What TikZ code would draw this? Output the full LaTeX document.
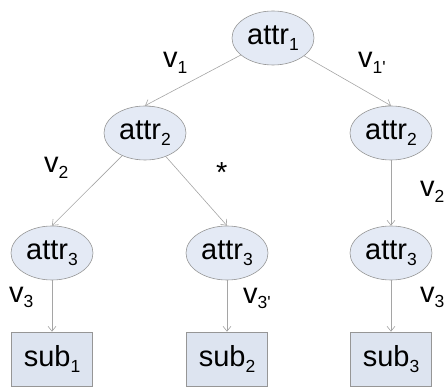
\documentclass[tikz,border=0pt]{standalone}
\usepackage{fontspec}
\setmainfont{Liberation Sans}
\usetikzlibrary{shapes.geometric,arrows.meta}
\definecolor{efill}{RGB}{228,234,245}
\definecolor{bfill}{RGB}{221,228,240}
\definecolor{bline}{RGB}{150,150,150}
\definecolor{eline}{RGB}{165,165,165}
\newcommand\sbs[1]{\raisebox{-0.2em}{\fontsize{17.5}{17.5}\selectfont #1}}
\tikzset{
  attrnode/.style={ellipse,draw=bline,fill=efill,line width=0.6pt,minimum width=82pt,minimum height=54pt,inner sep=0pt,font=\fontsize{29}{29}\selectfont},
  subnode/.style={rectangle,draw=bline,fill=bfill,line width=0.6pt,minimum width=81pt,minimum height=54pt,inner sep=0pt,font=\fontsize{29}{29}\selectfont},
  edge/.style={draw=eline,line width=0.6pt,-{Straight Barb[length=5pt,width=8pt]}},
  lbl/.style={inner sep=0pt,anchor=base west,font=\fontsize{29}{29}\selectfont}
}
\begin{document}
\begin{tikzpicture}[x=1pt,y=-1pt]
\useasboundingbox (0,0) rectangle (447,387);
\node[attrnode] (a1) at (273,38) {attr\sbs{1}};
\node[attrnode] (a2L) at (145,133) {attr\sbs{2}};
\node[attrnode] (a2R) at (391,133) {attr\sbs{2}};
\node[attrnode] (a3L) at (52,253) {attr\sbs{3}};
\node[attrnode] (a3M) at (227,253) {attr\sbs{3}};
\node[attrnode] (a3R) at (391,253) {attr\sbs{3}};
\node[subnode] (s1) at (52,359) {sub\sbs{1}};
\node[subnode] (s2) at (227,359) {sub\sbs{2}};
\node[subnode] (s3) at (391,359) {sub\sbs{3}};
\draw[edge] (a1) -- (a2L.north);
\draw[edge] (a1) -- (a2R.north);
\draw[edge] (a2L) -- (a3L.north);
\draw[edge] (a2L) -- (a3M.north);
\draw[edge] (a2R) -- (a3R);
\draw[edge] (a3L) -- (s1);
\draw[edge] (a3M) -- (s2);
\draw[edge] (a3R) -- (s3);
\node[lbl] (l1) at (163,68) {v\sbs{1}};
\node[lbl] (l2) at (358,68) {v\sbs{1\textquotesingle}};
\node[lbl] (l3) at (44,173) {v\sbs{2}};
\node[lbl] (l4) at (216,183) {*};
\node[lbl] (l5) at (420,197) {v\sbs{2}};
\node[lbl] (l6) at (9,302) {v\sbs{3}};
\node[lbl] (l7) at (243,303) {v\sbs{3\textquotesingle}};
\node[lbl] (l8) at (420,302) {v\sbs{3}};
\end{tikzpicture}
\end{document}
